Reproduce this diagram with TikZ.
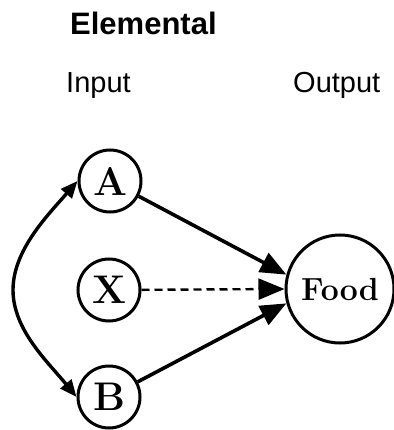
\documentclass[tikz,border=0pt]{standalone}
\usepackage{fontspec}
\usetikzlibrary{arrows.meta}
\newfontfamily\sansf{Liberation Sans}
\begin{document}
\begin{tikzpicture}[x=1pt,y=-1pt,
  circ/.style={circle, draw, line width=3pt, inner sep=0pt, minimum size=62pt,
    font=\fontsize{40}{44}\selectfont\bfseries},
  foodc/.style={circle, draw, line width=3pt, inner sep=0pt, minimum size=108pt,
    font=\fontsize{32}{36}\selectfont\bfseries},
  label/.style={anchor=base west, inner sep=0pt, font=\sansf\fontsize{29}{34}\selectfont},
  bigarrow/.style={-{Triangle[length=26pt,width=21pt]}, line width=3.6pt},
  dasharrow/.style={-{Triangle[length=26pt,width=21pt]}, line width=2.4pt, dash pattern=on 8pt off 5pt},
  smallarrow/.style={{Triangle[length=17pt,width=14pt]}-{Triangle[length=17pt,width=14pt]}, line width=3.4pt}
]
\useasboundingbox (0,0) rectangle (393,430);
\node[label, font=\sansf\bfseries\fontsize{31}{36}\selectfont] (title) at (70,35) {Elemental};
\node[label] (input) at (66,93) {Input};
\node[label] (output) at (293,93) {Output};

\node[circ] (A) at (110,181) {A};
\node[circ] (X) at (109,290) {X};
\node[circ] (B) at (109,397) {B};
\node[foodc] (F) at (340,289) {Food};

\coordinate (m) at (13,290);
\draw[smallarrow] (A.west) .. controls (48,215) and (13,250) .. (m) .. controls (13,330) and (48,362) .. (B.west);

\draw[bigarrow] (A) -- (F.165);
\draw[dasharrow] (X) -- (F.west);
\draw[bigarrow] (B) -- (F.195);
\end{tikzpicture}
\end{document}
